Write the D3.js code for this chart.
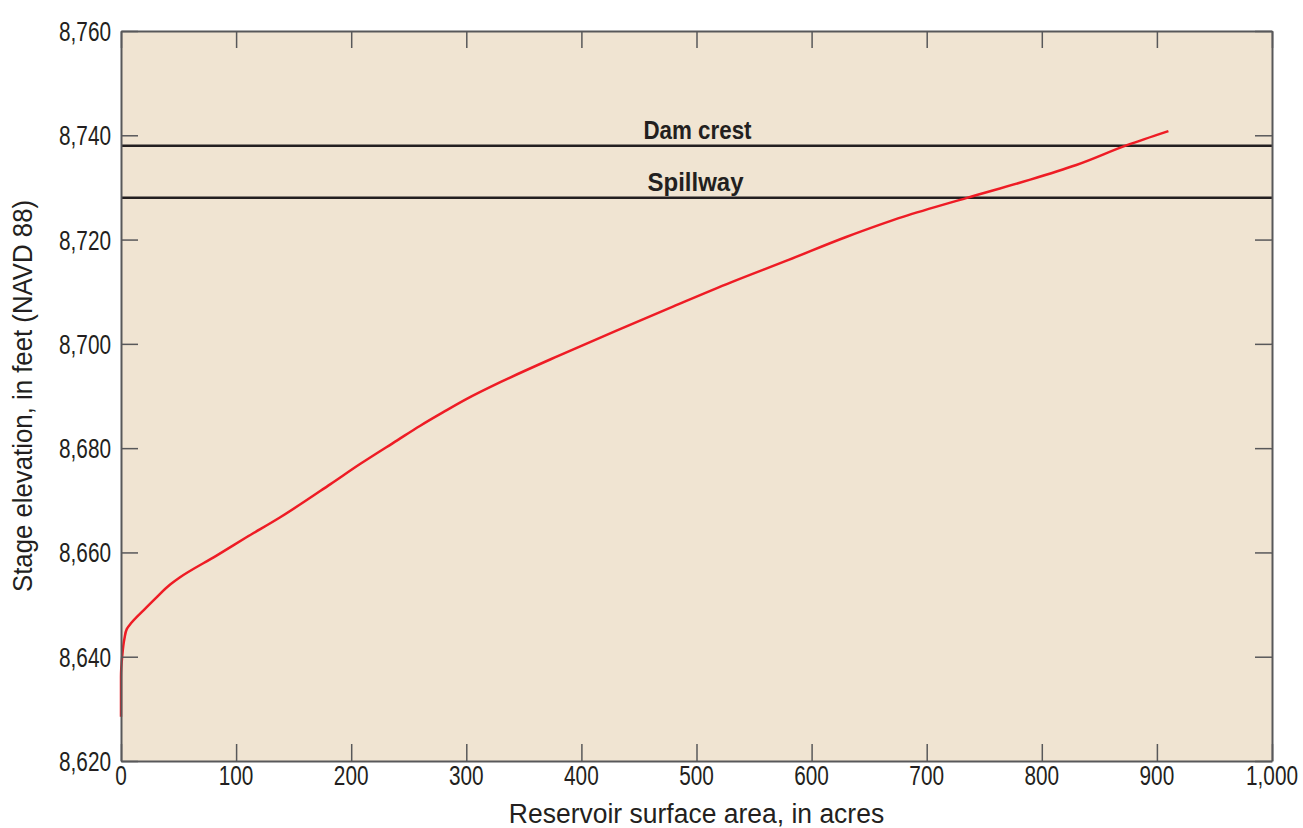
<!DOCTYPE html>
<html>
<head>
<meta charset="utf-8">
<script src="https://cdn.jsdelivr.net/npm/d3@7"></script>
<style>
  body { margin: 0; background: #fff; }
  text { font-family: "Liberation Sans", Arial, sans-serif; fill: #231f20; }
</style>
</head>
<body>
<div id="chart"></div>
<script>
// stage-area curve
const area = [0, 0, 1, 3, 5, 9, 20, 30, 43, 51, 83, 109, 138, 182, 208, 240, 260, 280, 300, 330, 380, 430, 480, 530, 580, 630, 680, 735, 790, 830, 874, 910];
const stage = [8628.5, 8636, 8640, 8643.5, 8645.3, 8646.5, 8649, 8651.2, 8653.9, 8655.2, 8659.4, 8662.9, 8666.7, 8673.1, 8677, 8681.5, 8684.3, 8686.9, 8689.4, 8692.7, 8697.7, 8702.5, 8707.2, 8711.8, 8716.1, 8720.5, 8724.4, 8728, 8731.5, 8734.3, 8738.1, 8740.8];

const refNames = ["Dam crest", "Spillway"];
const refStage = [8738, 8728];

const xTicks = [0, 100, 200, 300, 400, 500, 600, 700, 800, 900, 1000];
const yTicks = [8620, 8640, 8660, 8680, 8700, 8720, 8740, 8760];

const width = 1303, height = 828;
const margin = {top: 31, right: 31, bottom: 67, left: 121};
const iw = width - margin.left - margin.right;
const ih = height - margin.top - margin.bottom;

const svg = d3.select("#chart").append("svg")
  .attr("width", width)
  .attr("height", height);

const g = svg.append("g")
  .attr("transform", `translate(${margin.left},${margin.top})`);

const x = d3.scaleLinear().domain([0, 1000]).range([0, iw]);
const y = d3.scaleLinear().domain([8620, 8760]).range([ih, 0]);

// condensed look: squeeze text horizontally around its anchor
const squeeze = 0.77;
function label(parent, px, py, str, size, anchor, opts = {}) {
  const rot = opts.rot || 0;
  const t = parent.append("text")
    .attr("transform", `translate(${px},${py}) rotate(${rot}) scale(${squeeze},1)`)
    .attr("text-anchor", anchor)
    .style("font-size", size + "px")
    .style("font-weight", opts.bold ? "bold" : "normal")
    .text(str);
  if (opts.fitWidth) {
    const len = t.node().getComputedTextLength();
    t.attr("transform", `translate(${px},${py}) rotate(${rot}) scale(${opts.fitWidth / len},1)`);
  }
  return t;
}

g.append("rect")
  .attr("width", iw)
  .attr("height", ih)
  .attr("fill", "#f0e4d2");

// reference lines
refStage.forEach(s => {
  g.append("line")
    .attr("x1", 0).attr("x2", iw)
    .attr("y1", y(s)).attr("y2", y(s))
    .attr("stroke", "#231f20")
    .attr("stroke-width", 2.5);
});
label(g, x(500) + 1, y(refStage[0]) - 7, refNames[0], 26, "middle", {bold: true, fitWidth: 108});
label(g, x(500) - 1, y(refStage[1]) - 7, refNames[1], 26, "middle", {bold: true, fitWidth: 96});

// curve
const pts = area.map((a, i) => [a, stage[i]]);
g.append("path")
  .datum(pts)
  .attr("fill", "none")
  .attr("stroke", "#ee1c25")
  .attr("stroke-width", 2.5)
  .attr("stroke-linejoin", "round")
  .attr("d", d3.line().x(d => x(d[0])).y(d => y(d[1])).curve(d3.curveMonotoneY));

// axes, ticks pointing inward; labels drawn separately
const fmt = d3.format(",");
const tickLen = 17;

const xAxis = g.append("g")
  .attr("transform", `translate(0,${ih})`)
  .call(d3.axisBottom(x).tickValues(xTicks).tickFormat("").tickSizeInner(-tickLen).tickSizeOuter(0));
const xTop = g.append("g")
  .call(d3.axisTop(x).tickValues(xTicks).tickFormat("").tickSizeInner(-tickLen).tickSizeOuter(0));
const yAxis = g.append("g")
  .call(d3.axisLeft(y).tickValues(yTicks).tickFormat("").tickSizeInner(-tickLen).tickSizeOuter(0));
const yRight = g.append("g")
  .attr("transform", `translate(${iw},0)`)
  .call(d3.axisRight(y).tickValues(yTicks).tickFormat("").tickSizeInner(-tickLen).tickSizeOuter(0));

[xAxis, xTop, yAxis, yRight].forEach(a => {
  a.select(".domain").attr("stroke", "#58585a").attr("stroke-width", 2);
  a.selectAll(".tick line").attr("stroke", "#58585a").attr("stroke-width", 1.5);
});

xTicks.forEach(v => label(g, x(v), ih + 24, fmt(v), 27, "middle"));
yTicks.forEach(v => label(g, -10, y(v) + 10, fmt(v), 27, "end"));

// axis titles
label(svg, margin.left + iw / 2, 823, "Reservoir surface area, in acres", 28, "middle", {fitWidth: 375});
label(svg, 32, 396, "Stage elevation, in feet (NAVD 88)", 28, "middle", {rot: -90, fitWidth: 392});
</script>
</body>
</html>
